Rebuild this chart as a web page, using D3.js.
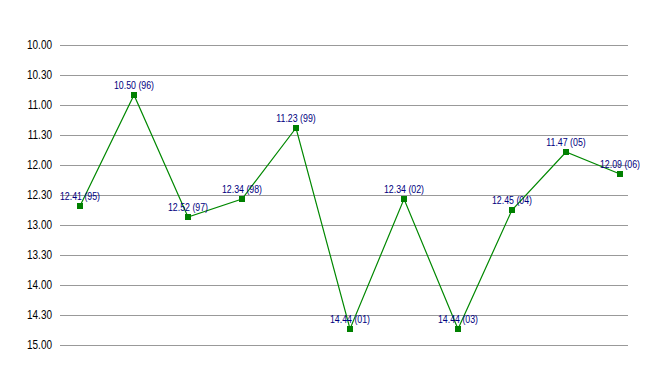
<!DOCTYPE html>
<html>
<head>
<meta charset="utf-8">
<script src="https://cdn.jsdelivr.net/npm/d3@7"></script>
<style>
  body { margin: 0; background: #fff; }
  svg { display: block; }
</style>
</head>
<body>
<div id="chart"></div>
<script>
// race times as minutes.seconds, one per season
var years = ["95", "96", "97", "98", "99", "01", "02", "03", "04", "05", "06"];
var times = ["12.41", "10.50", "12.52", "12.34", "11.23", "14.44", "12.34", "14.44", "12.45", "11.47", "12.09"];
var tickLabels = ["10.00", "10.30", "11.00", "11.30", "12.00", "12.30", "13.00", "13.30", "14.00", "14.30", "15.00"];

function toMinutes(s) {
    var p = s.split(".");
    return +p[0] + (+p[1]) / 60;
}

var w = 668, h = 375;
var narrow = 0.8; // squeeze Liberation Sans to look like a narrow face

var svg = d3.select("#chart")
    .append("svg")
    .attr("width", w)
    .attr("height", h);

var xScale = d3.scalePoint()
    .domain(years)
    .range([80, 620]);

var yScale = d3.scaleLinear()
    .domain([10, 15])
    .range([45, 345]);

// gridlines + y labels
var grid = svg.append("g");
grid.selectAll("line")
    .data(tickLabels)
    .join("line")
    .attr("x1", 60)
    .attr("x2", 628)
    .attr("y1", d => Math.round(yScale(toMinutes(d))) + 0.5)
    .attr("y2", d => Math.round(yScale(toMinutes(d))) + 0.5)
    .attr("stroke", "#999")
    .attr("stroke-width", 1);

grid.selectAll("text")
    .data(tickLabels)
    .join("text")
    .attr("transform", d => `translate(52,${yScale(toMinutes(d))}) scale(${narrow},1)`)
    .attr("dy", "0.35em")
    .attr("text-anchor", "end")
    .style("font-family", "'Liberation Sans', Arial, sans-serif")
    .style("font-size", "12.5px")
    .attr("fill", "#000")
    .text(d => d);

var dataset = years.map(function(y, i) {
    return { year: y, time: times[i], value: toMinutes(times[i]) };
});

var line = d3.line()
    .x(d => xScale(d.year))
    .y(d => yScale(d.value));

svg.append("path")
    .datum(dataset)
    .attr("d", line)
    .attr("fill", "none")
    .attr("stroke", "#008800")
    .attr("stroke-width", 1.2);

svg.append("g")
    .selectAll("rect")
    .data(dataset)
    .join("rect")
    .attr("x", d => xScale(d.year) - 3)
    .attr("y", d => yScale(d.value) - 3)
    .attr("width", 6)
    .attr("height", 6)
    .attr("fill", "#008000");

svg.append("g")
    .selectAll("text")
    .data(dataset)
    .join("text")
    .attr("transform", d => `translate(${xScale(d.year)},${yScale(d.value) - 6}) scale(${narrow},1)`)
    .attr("text-anchor", "middle")
    .style("font-family", "'Liberation Sans', Arial, sans-serif")
    .style("font-size", "11px")
    .attr("fill", "#000080")
    .text(d => d.time + " (" + d.year + ")");
</script>
</body>
</html>
